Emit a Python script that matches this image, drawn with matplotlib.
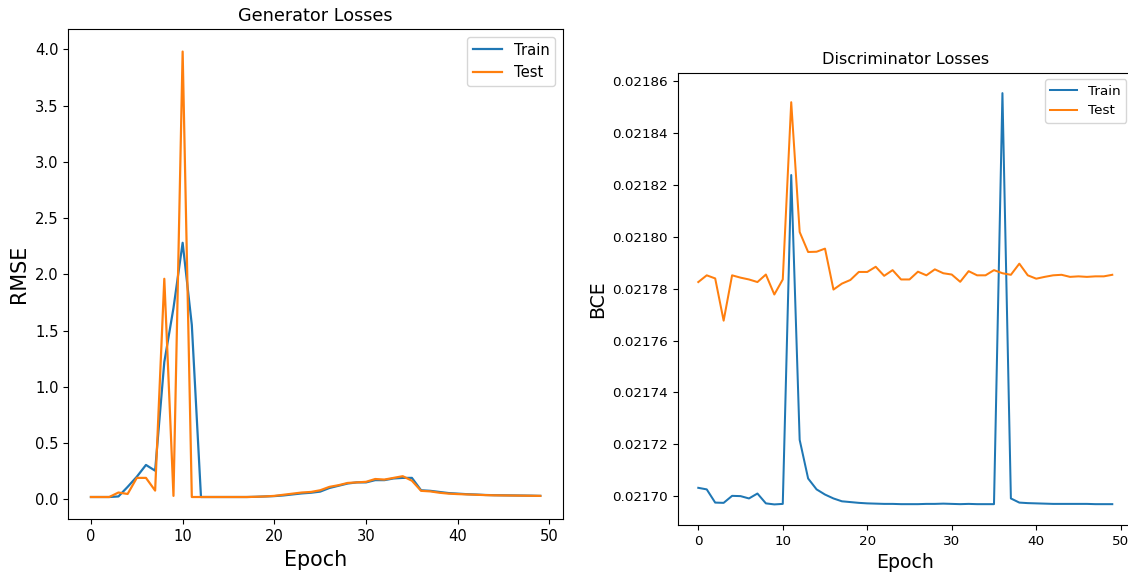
import matplotlib
matplotlib.use("Agg")
import matplotlib.pyplot as plt
import numpy as np

epochs = np.arange(50)

# generator RMSE per epoch
gen_train = [0.02, 0.02, 0.02, 0.025, 0.11, 0.20, 0.305, 0.254, 1.22, 1.70,
             2.28, 1.55, 0.02, 0.02, 0.02, 0.02, 0.02, 0.02, 0.022, 0.025,
             0.028, 0.034, 0.043, 0.052, 0.058, 0.068, 0.10, 0.12, 0.14, 0.15,
             0.15, 0.17, 0.17, 0.185, 0.19, 0.19, 0.08, 0.075, 0.065, 0.055,
             0.05, 0.045, 0.042, 0.038, 0.036, 0.035, 0.034, 0.033, 0.032, 0.03]
gen_test = [0.02, 0.02, 0.02, 0.06, 0.047, 0.19, 0.19, 0.077, 1.96, 0.03,
            3.98, 0.02, 0.02, 0.02, 0.02, 0.02, 0.02, 0.02, 0.022, 0.025,
            0.03, 0.04, 0.05, 0.06, 0.065, 0.08, 0.11, 0.125, 0.145, 0.15,
            0.155, 0.18, 0.175, 0.19, 0.205, 0.165, 0.075, 0.07, 0.058, 0.05,
            0.046, 0.043, 0.04, 0.037, 0.035, 0.034, 0.033, 0.032, 0.031, 0.03]

# discriminator BCE per epoch
disc_train = [0.0217032, 0.0217026, 0.0216975, 0.0216974, 0.0217001, 0.0217000, 0.0216991, 0.0217010, 0.0216972, 0.0216968,
              0.0216970, 0.0218239, 0.0217217, 0.0217068, 0.0217026, 0.0217006, 0.0216991, 0.0216980, 0.0216977, 0.0216974,
              0.0216972, 0.0216971, 0.0216970, 0.0216970, 0.0216969, 0.0216969, 0.0216969, 0.0216970, 0.0216970, 0.0216971,
              0.0216970, 0.0216969, 0.0216970, 0.0216969, 0.0216969, 0.0216969, 0.0218555, 0.0216991, 0.0216975, 0.0216973,
              0.0216972, 0.0216971, 0.0216970, 0.0216970, 0.0216970, 0.0216970, 0.0216970, 0.0216969, 0.0216969, 0.0216969]
disc_test = [0.0217826, 0.0217852, 0.0217840, 0.0217677, 0.0217852, 0.0217843, 0.0217836, 0.0217826, 0.0217855, 0.0217778,
             0.0217836, 0.0218520, 0.0218019, 0.0217942, 0.0217943, 0.0217955, 0.0217797, 0.0217820, 0.0217834, 0.0217865,
             0.0217865, 0.0217885, 0.0217850, 0.0217872, 0.0217836, 0.0217836, 0.0217866, 0.0217852, 0.0217875, 0.0217860,
             0.0217855, 0.0217827, 0.0217868, 0.0217852, 0.0217852, 0.0217872, 0.0217860, 0.0217854, 0.0217897, 0.0217852,
             0.0217839, 0.0217846, 0.0217852, 0.0217854, 0.0217846, 0.0217848, 0.0217846, 0.0217848, 0.0217848, 0.0217854]

fig = plt.figure(figsize=(11.28, 5.75), dpi=100)

# left panel is drawn a little larger than the right one
s1 = 1.06
ax1 = fig.add_axes([0.0607, 0.0969, 0.4382, 0.8522])
ax1.plot(epochs, gen_train, label="Train", lw=1.5 * s1)
ax1.plot(epochs, gen_test, label="Test", lw=1.5 * s1)
ax1.set_title("Generator Losses", fontsize=12 * s1)
ax1.set_xlabel("Epoch", fontsize=14 * s1)
ax1.set_ylabel("RMSE", fontsize=14 * s1)
ax1.tick_params(labelsize=10 * s1, length=3.5 * s1)
ax1.legend(fontsize=10 * s1)

s2 = 0.97
ax2 = fig.add_axes([0.6007, 0.087, 0.4037, 0.7868])
ax2.plot(epochs, disc_train, label="Train", lw=1.5 * s2)
ax2.plot(epochs, disc_test, label="Test", lw=1.5 * s2)
ax2.set_title("Discriminator Losses", fontsize=12 * s2)
ax2.set_xlabel("Epoch", fontsize=14 * s2)
ax2.set_ylabel("BCE", fontsize=14 * s2)
ax2.ticklabel_format(axis="y", useOffset=False)
ax2.yaxis.set_major_formatter(matplotlib.ticker.FormatStrFormatter("%.5f"))
ax2.tick_params(labelsize=10 * s2, length=3.5 * s2)
ax2.legend(fontsize=10 * s2)

fig.savefig("out.png", dpi=100)
